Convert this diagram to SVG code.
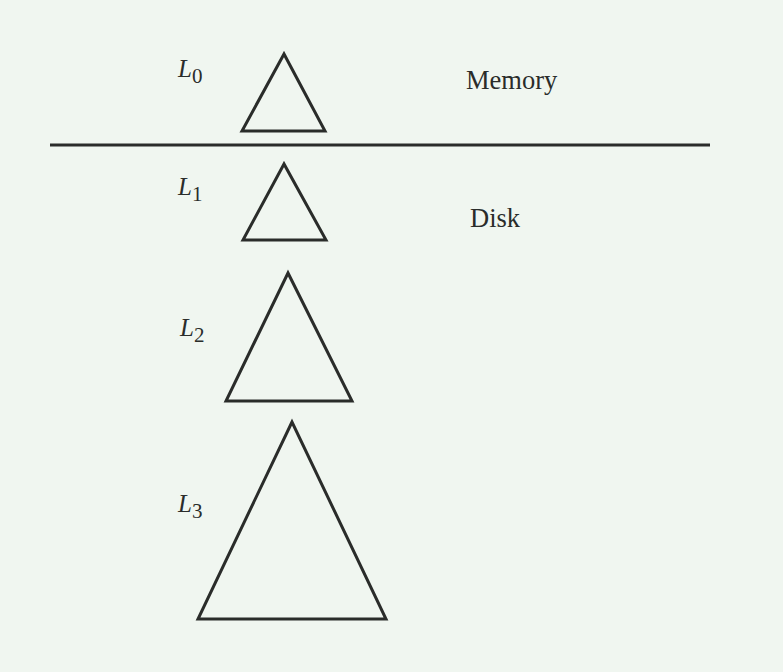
<svg xmlns="http://www.w3.org/2000/svg" width="783" height="672" viewBox="0 0 783 672">
<style>
.tri{fill:none;stroke:#2a2c2a;stroke-width:3}
.sep{stroke:#2a2c2a;stroke-width:3}
.lab{font-family:"Liberation Serif","Times New Roman",serif;font-style:italic;font-size:25px;fill:#2a2c2a}
.sub{font-family:"Liberation Serif","Times New Roman",serif;font-style:normal;font-size:21px}
.txt{font-family:"Liberation Serif","Times New Roman",serif;font-size:26.5px;fill:#2a2c2a}
</style>
<rect width="783" height="672" fill="#f0f6f0"/>
<line class="sep" x1="50" y1="145" x2="710" y2="145"/>
<g id="L0">
<polygon class="tri" points="284,54 242,131 325,131"/>
<text class="lab" x="178" y="77">L<tspan class="sub" dy="6">0</tspan></text>
</g>
<g id="L1">
<polygon class="tri" points="284,164 243,240 326,240"/>
<text class="lab" x="178" y="195">L<tspan class="sub" dy="6">1</tspan></text>
</g>
<g id="L2">
<polygon class="tri" points="288,273 226,401 352,401"/>
<text class="lab" x="180" y="336">L<tspan class="sub" dy="6">2</tspan></text>
</g>
<g id="L3">
<polygon class="tri" points="292,422 198,619 386,619"/>
<text class="lab" x="178" y="512">L<tspan class="sub" dy="6">3</tspan></text>
</g>
<g id="memory"><text class="txt" x="466" y="89">Memory</text></g>
<g id="disk"><text class="txt" x="470" y="227">Disk</text></g>
</svg>
